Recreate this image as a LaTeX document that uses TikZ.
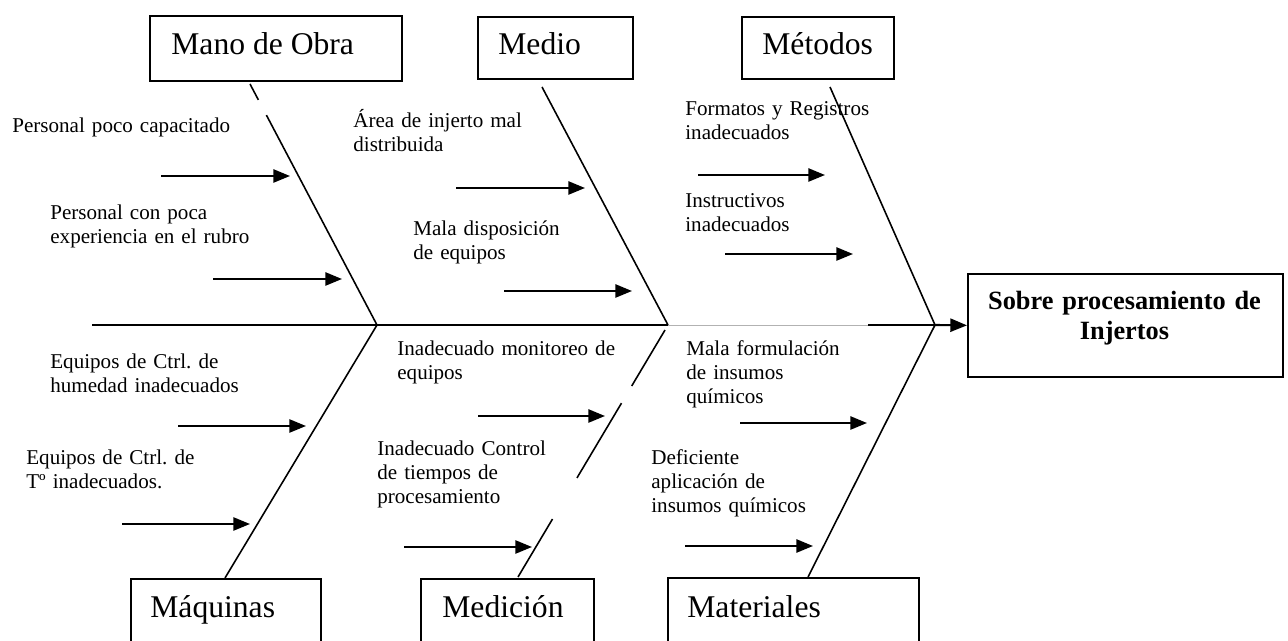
\documentclass[tikz,border=0pt]{standalone}
\usepackage{fontspec}
\setmainfont{Liberation Serif}
\usetikzlibrary{arrows.meta,calc}
\frenchspacing

\begin{document}
\begin{tikzpicture}[
		x=0.02cm, y=-0.02cm,
		caja/.style={draw, line width=1pt, anchor=north west, inner sep=0pt},
		titulo/.style={anchor=base west, inner sep=0pt, font=\fontsize{18}{21}\selectfont},
		causa/.style={anchor=base west, inner sep=0pt, text width=5.5cm, align=left,
			font=\fontsize{12}{13.6}\selectfont},
		espina/.style={line width=0.9pt},
		flecha/.style={line width=1.2pt, -{Triangle[length=9.5pt,width=7.5pt]}}]

		\useasboundingbox (0,0) rectangle (1288,641);

		\node[caja, minimum width=5.04cm, minimum height=1.3cm] (mano) at (149,15) {};
		\node[caja, minimum width=3.1cm,  minimum height=1.24cm] (medio) at (477,16) {};
		\node[caja, minimum width=3.04cm, minimum height=1.24cm] (metodos) at (741,16) {};
		\node[caja, minimum width=3.8cm,  minimum height=1.32cm] (maquinas) at (130,578) {};
		\node[caja, minimum width=3.46cm, minimum height=1.32cm] (medicion) at (420,578) {};
		\node[caja, minimum width=5.02cm, minimum height=1.34cm] (materiales) at (667,577) {};
		\node[caja, minimum width=6.3cm,  minimum height=2.06cm] (efecto) at (967,273) {};

		\node[titulo] (tmano) at ($(mano.north west)+(22,40)$) {Mano de Obra};
		\node[titulo] (tmedio) at ($(medio.north west)+(21,39)$) {Medio};
		\node[titulo] (tmetodos) at ($(metodos.north west)+(21,39)$) {Métodos};
		\node[titulo] (tmaquinas) at ($(maquinas.north west)+(20,39)$) {Máquinas};
		\node[titulo] (tmedicion) at ($(medicion.north west)+(22,39)$) {Medición};
		\node[titulo] (tmateriales) at ($(materiales.north west)+(20,40)$) {Materiales};
		\node[anchor=base, inner sep=0pt, text width=6cm, align=center,
			font=\fontsize{15}{17}\selectfont\bfseries] (tefecto) at (1124.5,310)
			{Sobre procesamiento de\\Injertos};

		\coordinate (cola) at (92,325);
		\coordinate (j1) at (377,325);
		\coordinate (j2) at (668,325);
		\coordinate (sp) at (868,325);
		\coordinate (j3) at (935,325);
		\coordinate (mo) at (250,84);
		\coordinate (md) at (542,87);
		\coordinate (mt) at (830,87);
		\coordinate (mq) at (225,578);
		\coordinate (me) at (518,577);
		\coordinate (ma) at (808,577);

		\draw[espina] (cola) -- (j1) -- (j2);
		\draw[line width=0.5pt, gray!60] (j2) -- (sp);
		\draw[espina] (sp) -- (j3);
		\draw[flecha] (j3) -- (efecto.west);

		\draw[espina] (mo) -- ($(mo)!0.066!(j1)$);
		\draw[espina] ($(mo)!0.129!(j1)$) -- (j1) -- (mq);
		\draw[espina] (md) -- (j2);
		\draw[espina] (mt) -- (j3) -- (ma);
		\draw[espina] ($(j2)!0.02!(me)$) -- ($(j2)!0.242!(me)$);
		\draw[espina] ($(j2)!0.31!(me)$) -- ($(j2)!0.607!(me)$);
		\draw[espina] ($(j2)!0.77!(me)$) -- (me);

		\node[causa] (c1) at (12,133) {Personal poco capacitado};
		\node[causa] (c2) at (50,220) {Personal con poca\\experiencia en el rubro};
		\node[causa] (c3) at (50,369) {Equipos de Ctrl. de\\humedad inadecuados};
		\node[causa] (c4) at (26,465) {Equipos de Ctrl. de\\Tº inadecuados.};
		\node[causa] (c5) at (353,128) {Área de injerto mal\\distribuida};
		\node[causa] (c6) at (413,236) {Mala disposición\\de equipos};
		\node[causa] (c7) at (685,116) {Formatos y Registros\\inadecuados};
		\node[causa] (c8) at (685,208) {Instructivos\\inadecuados};
		\node[causa] (c9) at (397,356) {Inadecuado monitoreo de\\equipos};
		\node[causa] (c10) at (377,456) {Inadecuado Control\\de tiempos de\\procesamiento};
		\node[causa] (c11) at (686,356) {Mala formulación\\de insumos\\químicos};
		\node[causa] (c12) at (651,465) {Deficiente\\aplicación de\\insumos químicos};

		\foreach \i/\xa/\xb/\y in {1/161/290/176, 2/213/342/279, 3/178/306/426, 4/122/250/524,
			5/456/585/188, 6/504/632/291, 7/698/825/175, 8/725/853/254,
			9/478/605/416, 10/404/532/547, 11/740/867/423, 12/685/813/546}{
			\coordinate (ca\i) at (\xa,\y);
			\coordinate (cb\i) at (\xb,\y);
			\draw[flecha] (ca\i) -- (cb\i);
		}

\end{tikzpicture}
\end{document}
